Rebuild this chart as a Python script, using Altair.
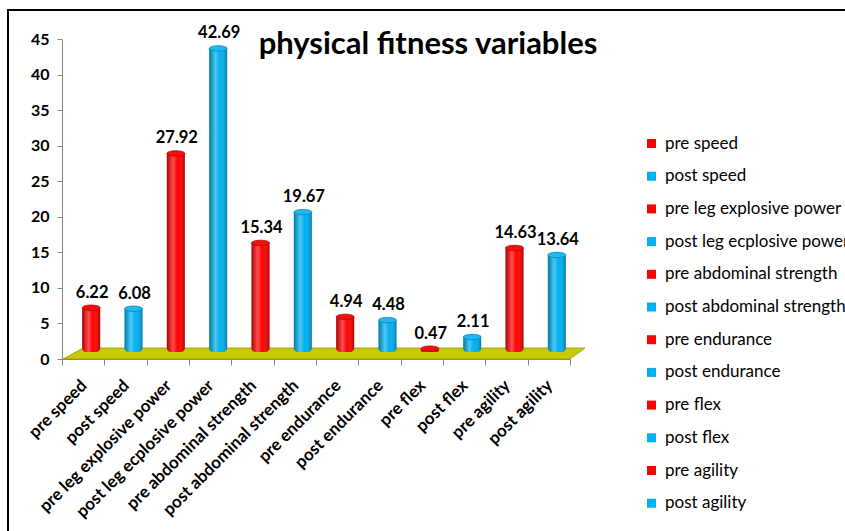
import altair as alt
import pandas as pd

categories = ["pre speed", "post speed", "pre leg explosive power", "post leg ecplosive power",
              "pre abdominal strength", "post abdominal strength", "pre endurance", "post endurance",
              "pre flex", "post flex", "pre agility", "post agility"]
values = [6.22, 6.08, 27.92, 42.69, 15.34, 19.67, 4.94, 4.48, 0.47, 2.11, 14.63, 13.64]
phases = ["pre" if c.startswith("pre") else "post" for c in categories]
colors = ["#ff0000" if p == "pre" else "#00b0f0" for p in phases]
y_ticks = [0, 5, 10, 15, 20, 25, 30, 35, 40, 45]
title_text = "physical fitness variables"

df = pd.DataFrame({"category": categories, "value": values, "phase": phases,
                   "label": [f"{v:.2f}" for v in values]})
one = pd.DataFrame({"a": [0]})

W, H = 508, 320
XOFF, YOFF = 8, -7

xenc = alt.X("category:N", sort=categories,
             scale=alt.Scale(domain=categories, paddingInner=0, paddingOuter=0),
             axis=alt.Axis(title=None, labelAngle=-45, labelFont="Lato", labelFontWeight="bold",
                           labelFontSize=17, labelColor="#000000", labelOffset=-5, labelPadding=12,
                           tickBand="extent", tickColor="#868686", tickSize=6,
                           domainColor="#868686", labelLimit=300))
yenc = alt.Y("value:Q", scale=alt.Scale(domain=[0, 45], nice=False),
             axis=alt.Axis(title=None, values=y_ticks, labelFont="Lato", labelFontWeight="bold",
                           labelFontSize=16, labelColor="#000000", tickColor="#868686",
                           domainColor="#868686", tickSize=5, labelPadding=8, grid=False,
                           labelOverlap=False))

border = alt.Chart(one).mark_rect(fill="white", fillOpacity=0, stroke="#000000", strokeWidth=2).encode(
    x=alt.value(-54), x2=alt.value(900), y=alt.value(-29), y2=alt.value(600))

floor = alt.Chart(one).mark_point(
    shape="M1,0 L21,-11 L523,-11 L508,0 Z", size=4, filled=True, fill="#c8c800",
    stroke="#9a9a00", strokeWidth=0.8, opacity=1).encode(x=alt.value(0), y=alt.value(H))

bars = alt.Chart(df).mark_bar(size=18, xOffset=XOFF, yOffset=YOFF, y2Offset=YOFF,
                              cornerRadiusBottomLeft=4, cornerRadiusBottomRight=4).encode(
    x=xenc, y=yenc, y2=alt.datum(0),
    color=alt.Color("category:N", scale=alt.Scale(domain=categories, range=colors),
                    legend=alt.Legend(title=None, orient="none", legendX=581, legendY=96,
                                      symbolType="square", symbolSize=81, symbolStrokeWidth=0,
                                      labelFont="Lato", labelFontSize=17, labelColor="#000000",
                                      rowPadding=14.7, padding=0, labelOffset=5, labelLimit=400)))

grad = alt.Gradient(gradient="linear", x1=0, x2=1, y1=0, y2=0, stops=[
    alt.GradientStop(offset=0, color="rgba(0,0,0,0.30)"),
    alt.GradientStop(offset=0.35, color="rgba(255,255,255,0.30)"),
    alt.GradientStop(offset=0.6, color="rgba(255,255,255,0.0)"),
    alt.GradientStop(offset=1, color="rgba(0,0,0,0.30)")])
shade = alt.Chart(df).mark_bar(size=18, xOffset=XOFF, yOffset=YOFF, y2Offset=YOFF, color=grad,
                               cornerRadiusBottomLeft=4, cornerRadiusBottomRight=4).encode(
    x=xenc, y=yenc, y2=alt.datum(0))

caps = alt.Chart(df).mark_point(
    shape="M-1,0 A1,0.3 0 1,1 1,0 A1,0.3 0 1,1 -1,0 Z", size=324, filled=True, opacity=1,
    xOffset=XOFF, yOffset=YOFF, strokeWidth=0.8).encode(
    x=xenc, y=yenc,
    fill=alt.condition(alt.datum.phase == "pre", alt.value("#f01010"), alt.value("#20b8f2")),
    stroke=alt.condition(alt.datum.phase == "pre", alt.value("#c00000"), alt.value("#0088c0")))

labels = alt.Chart(df).mark_text(font="Lato", fontWeight="bold", fontSize=16.5, color="#000000",
                                 baseline="bottom", dx=XOFF + 1, dy=YOFF - 7).encode(
    x=xenc, y=yenc, text="label:N")

title = alt.Chart(one).mark_text(text=title_text, font="Lato", fontWeight="bold", fontSize=31,
                                 color="#000000", align="center", baseline="middle").encode(
    x=alt.value(366), y=alt.value(6))

chart = alt.layer(border, floor, bars, shade, caps, labels, title).properties(
    width=W, height=H,
    autosize=alt.AutoSizeParams(type="none"),
    padding={"left": 62, "top": 39, "right": 275, "bottom": 172},
    background="white",
).configure_view(stroke=None)

chart.save("out.html", embed_options={"renderer": "svg", "actions": False})
